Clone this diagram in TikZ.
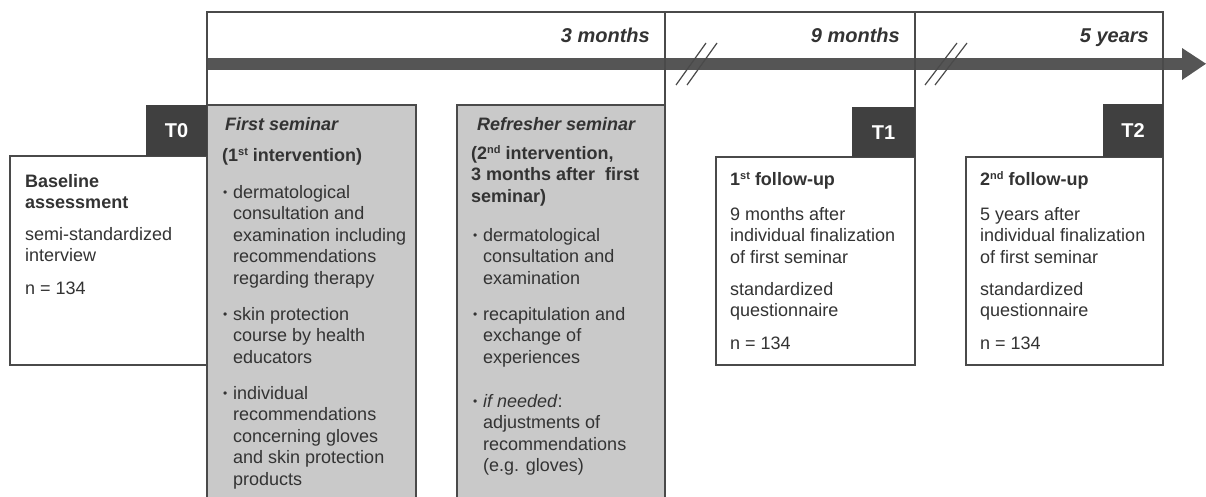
\documentclass[tikz,border=0pt]{standalone}
\usepackage{fontspec}
\setmainfont{Liberation Sans}
\definecolor{txtc}{HTML}{333333}
\definecolor{grayc}{HTML}{C9C9C9}
\definecolor{darkc}{HTML}{404040}
\definecolor{barc}{HTML}{555555}
\definecolor{linec}{HTML}{4A4A4A}
\newcommand\bodyfont{\fontsize{18}{21.5}\selectfont}
\newcommand\lns[1]{\begin{tabular}[t]{@{}l@{}}#1\end{tabular}}
\newcommand\sups[1]{\raisebox{5.5pt}{\fontsize{11}{11}\selectfont #1}}
\tikzset{
  frameline/.style={draw=linec, line width=1.3pt},
  graybox/.style={frameline, fill=grayc},
  whitebox/.style={frameline, fill=white},
  tbox/.style={fill=darkc, draw=none},
  tlabel/.style={text=white, font=\fontsize{20}{22}\selectfont\bfseries, inner sep=0pt},
  txt/.style={inner sep=0pt, anchor=base west, text=txtc, font=\bodyfont},
  bul/.style={inner sep=0pt, anchor=base west, text=txtc, font=\fontsize{12}{13}\selectfont},
  period/.style={inner sep=0pt, anchor=base east, text=txtc, font=\fontsize{20}{24}\selectfont\bfseries\itshape},
  breakmark/.style={draw=linec, line width=1.2pt},
}
\begin{document}
\begin{tikzpicture}[x=1pt,y=-1pt]
\useasboundingbox[fill=white] (0,0) rectangle (1206,496);
\clip (0,0) rectangle (1206,496);

% timeline bar and arrow head
\fill[barc] (207,58) rectangle (1183,69.5);
\fill[barc] (1182,48) -- (1206,63.75) -- (1182,80) -- cycle;

% frame lines
\draw[frameline] (207,105) -- (207,12) -- (1163,12) -- (1163,365);
\draw[frameline] (665,12) -- (665,500);
\draw[frameline] (915,12) -- (915,365);

% break marks
\draw[breakmark] (676,85) -- (706,43);
\draw[breakmark] (687,85) -- (717,43);
\draw[breakmark] (925,85) -- (957,43);
\draw[breakmark] (935,85) -- (967,43);

% period labels
\node[period] (p3) at (650,42) {3 months};
\node[period] (p9) at (900,42) {9 months};
\node[period] (p5) at (1149,42) {5 years};

% boxes
\draw[whitebox] (10,156) rectangle (207,365);
\draw[graybox] (207,105) rectangle (416,510);
\draw[graybox] (457,105) rectangle (665,510);
\draw[whitebox] (716,157) rectangle (915,365);
\draw[whitebox] (966,157) rectangle (1163,365);

% time point tags
\fill[tbox] (146,105) rectangle (207,156);
\node[tlabel] (t0) at (176.5,131) {T0};
\fill[tbox] (852,107) rectangle (915,157);
\node[tlabel] (t1) at (883.5,132.5) {T1};
\fill[tbox] (1103,104) rectangle (1163,157);
\node[tlabel] (t2) at (1133,130.5) {T2};

% baseline assessment
\node[txt] (bl1) at (25,187) {\lns{\textbf{Baseline}\\\textbf{assessment}}};
\node[txt] (bl2) at (25,240) {\lns{semi-standardized\\interview}};
\node[txt] (bl3) at (25,294) {n = 134};

% first seminar
\node[txt] (fs0) at (225,130) {\textbf{\textit{First seminar}}};
\node[txt] (fs1) at (222,161) {\textbf{(1\sups{st} intervention)}};
\node[bul] (fsb1) at (223,196) {•};
\node[txt] (fs2) at (233,198) {\lns{dermatological\\consultation and\\examination including\\recommendations\\regarding therapy}};
\node[bul] (fsb2) at (223,318) {•};
\node[txt] (fs3) at (233,320) {\lns{skin protection\\course by health\\educators}};
\node[bul] (fsb3) at (223,397) {•};
\node[txt] (fs4) at (233,399) {\lns{individual\\recommendations\\concerning gloves\\and skin protection\\products}};

% refresher seminar
\node[txt] (rs0) at (477,130) {\textbf{\textit{Refresher seminar}}};
\node[txt] (rs1) at (471,159) {\lns{\textbf{(2\sups{nd} intervention,}\\\textbf{3 months after~ first}\\\textbf{seminar)}}};
\node[bul] (rsb1) at (473,239) {•};
\node[txt] (rs2) at (483,241) {\lns{dermatological\\consultation and\\examination}};
\node[bul] (rsb2) at (473,318) {•};
\node[txt] (rs3) at (483,320) {\lns{recapitulation and\\exchange of\\experiences}};
\node[bul] (rsb3) at (473,405) {•};
\node[txt] (rs4) at (483,407) {\lns{\textit{if needed}:\\adjustments of\\recommendations\\(e.g. gloves)}};

% first follow-up
\node[txt] (f1a) at (730,185) {\textbf{1\sups{st} follow-up}};
\node[txt] (f1b) at (730,220) {\lns{9 months after\\individual finalization\\of first seminar}};
\node[txt] (f1c) at (730,295) {\lns{standardized\\questionnaire}};
\node[txt] (f1d) at (730,349) {n = 134};

% second follow-up
\node[txt] (f2a) at (980,185) {\textbf{2\sups{nd} follow-up}};
\node[txt] (f2b) at (980,220) {\lns{5 years after\\individual finalization\\of first seminar}};
\node[txt] (f2c) at (980,295) {\lns{standardized\\questionnaire}};
\node[txt] (f2d) at (980,349) {n = 134};
\end{tikzpicture}
\end{document}
